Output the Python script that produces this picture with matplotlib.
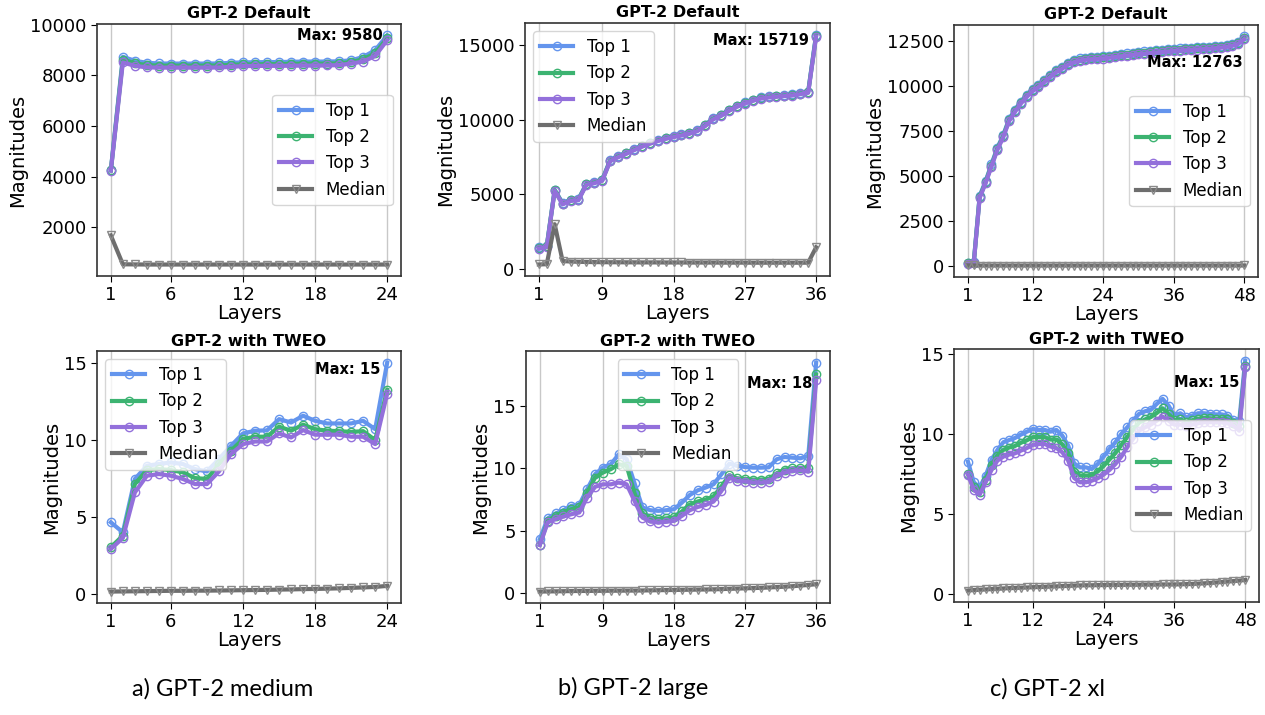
import matplotlib
matplotlib.use("Agg")
from matplotlib import pyplot as plt

plt.rcParams['font.family'] = ['DejaVu Sans']

# 各子图的数据
layers_24 = list(range(1, 25))
layers_36 = list(range(1, 37))
layers_48 = list(range(1, 49))

# a) GPT-2 medium, default
med_def_top1 = [4263, 8737, 8580, 8500, 8475, 8470, 8470, 8470, 8470, 8475, 8500, 8520,
                8520, 8530, 8530, 8540, 8550, 8550, 8550, 8560, 8600, 8730, 9000, 9580]
med_def_top2 = [4250, 8630, 8480, 8410, 8390, 8390, 8390, 8390, 8390, 8395, 8420, 8440,
                8440, 8450, 8450, 8460, 8470, 8470, 8470, 8480, 8530, 8640, 8880, 9480]
med_def_top3 = [4237, 8513, 8380, 8320, 8310, 8310, 8310, 8310, 8310, 8315, 8340, 8370,
                8375, 8380, 8380, 8385, 8390, 8390, 8395, 8410, 8470, 8550, 8770, 9395]
med_def_median = [1680, 540, 535, 530, 530, 530, 530, 530, 530, 530, 530, 530,
                  530, 530, 530, 530, 530, 530, 530, 530, 530, 530, 530, 530]

# a) GPT-2 medium, TWEO
med_tweo_top1 = [4.64, 3.99, 7.45, 8.31, 8.42, 8.52, 8.42, 8.09, 7.94, 8.74, 9.60, 10.40,
                 10.58, 10.60, 11.33, 11.11, 11.55, 11.22, 11.05, 11.05, 11.05, 11.22, 10.68, 15.00]
med_tweo_top2 = [3.02, 3.78, 7.12, 8.03, 8.09, 8.03, 7.88, 7.51, 7.45, 8.42, 9.28, 10.04,
                 10.19, 10.19, 10.84, 10.58, 10.97, 10.68, 10.58, 10.55, 10.50, 10.55, 9.97, 13.23]
med_tweo_top3 = [2.91, 3.63, 6.58, 7.66, 7.77, 7.66, 7.45, 7.12, 7.12, 7.94, 9.07, 9.71,
                 9.88, 9.88, 10.40, 10.14, 10.62, 10.32, 10.32, 10.32, 10.19, 10.19, 9.71, 12.99]
med_tweo_median = [0.15, 0.16, 0.17, 0.18, 0.19, 0.20, 0.20, 0.21, 0.21, 0.22, 0.23, 0.24,
                   0.25, 0.26, 0.28, 0.29, 0.31, 0.32, 0.34, 0.36, 0.39, 0.42, 0.45, 0.52]

# b) GPT-2 large, default
lrg_def_top1 = [1440, 1550, 5320, 4410, 4640, 4690, 5720, 5830, 5990, 7300, 7570, 7790,
                8040, 8270, 8470, 8650, 8800, 8920, 9030, 9140, 9320, 9660, 10110, 10340,
                10680, 10950, 11170, 11350, 11500, 11580, 11620, 11670, 11710, 11800, 11890, 15719]
lrg_def_top2 = [1400, 1510, 5280, 4370, 4600, 4650, 5680, 5790, 5950, 7260, 7530, 7750,
                8000, 8230, 8430, 8610, 8760, 8880, 8990, 9100, 9280, 9620, 10070, 10300,
                10640, 10910, 11130, 11310, 11460, 11540, 11580, 11630, 11670, 11760, 11850, 15650]
lrg_def_top3 = [1360, 1470, 5240, 4330, 4560, 4610, 5640, 5750, 5910, 7220, 7490, 7710,
                7960, 8190, 8390, 8570, 8720, 8840, 8950, 9060, 9240, 9580, 10030, 10260,
                10600, 10870, 11090, 11270, 11420, 11500, 11540, 11590, 11630, 11720, 11810, 15580]
lrg_def_median = [300, 320, 3000, 530, 500, 480, 470, 460, 455, 450, 450, 445,
                  445, 440, 440, 440, 435, 435, 435, 430, 430, 430, 430, 425,
                  425, 425, 425, 420, 420, 420, 420, 420, 420, 420, 420, 1450]

# b) GPT-2 large, TWEO
lrg_tweo_top1 = [4.34, 5.99, 6.39, 6.65, 7.00, 7.08, 8.33, 9.53, 10.06, 10.32, 11.12, 10.73,
                 8.80, 6.87, 6.65, 6.60, 6.65, 6.73, 7.26, 7.87, 8.24, 8.46, 8.72, 9.52,
                 10.37, 10.19, 10.10, 10.05, 10.05, 10.08, 10.72, 10.90, 10.85, 10.80, 10.98, 18.45]
lrg_tweo_top2 = [3.90, 5.80, 6.20, 6.46, 6.73, 6.87, 8.06, 9.26, 9.66, 9.93, 10.32, 10.20,
                 8.00, 6.40, 6.05, 5.95, 6.00, 6.08, 6.55, 7.10, 7.35, 7.50, 7.75, 8.55,
                 9.45, 9.20, 9.15, 9.10, 9.10, 9.15, 9.60, 9.90, 10.00, 10.02, 10.05, 17.50]
lrg_tweo_top3 = [3.86, 5.67, 5.94, 6.15, 6.33, 6.47, 7.66, 8.52, 8.72, 8.72, 8.86, 8.72,
                 7.39, 6.06, 5.75, 5.66, 5.72, 5.80, 6.20, 6.65, 6.91, 7.07, 7.34, 8.19,
                 9.26, 8.99, 8.94, 8.86, 8.86, 8.90, 9.39, 9.65, 9.79, 9.84, 9.73, 17.02]
lrg_tweo_median = [0.15, 0.16, 0.17, 0.18, 0.19, 0.20, 0.20, 0.21, 0.21, 0.22, 0.22, 0.23,
                   0.23, 0.24, 0.25, 0.26, 0.27, 0.28, 0.29, 0.30, 0.31, 0.32, 0.33, 0.35,
                   0.37, 0.39, 0.41, 0.43, 0.45, 0.48, 0.51, 0.54, 0.58, 0.63, 0.68, 0.74]

# c) GPT-2 xl, default
xl_def_top1 = [200, 230, 3915, 4724, 5662, 6581, 7279, 8180, 8695, 9154, 9522, 9853,
               10074, 10349, 10625, 10901, 11085, 11305, 11452, 11544, 11590, 11620, 11640, 11660,
               11700, 11740, 11780, 11820, 11860, 11900, 11930, 11960, 11990, 12020, 12050, 12080,
               12100, 12120, 12140, 12160, 12180, 12200, 12230, 12260, 12300, 12370, 12470, 12763]
xl_def_top2 = [170, 200, 3860, 4665, 5600, 6520, 7220, 8120, 8635, 9095, 9462, 9793,
               10014, 10289, 10565, 10841, 11025, 11245, 11392, 11484, 11530, 11560, 11580, 11600,
               11640, 11680, 11720, 11760, 11800, 11840, 11870, 11900, 11930, 11960, 11990, 12020,
               12040, 12060, 12080, 12100, 12120, 12140, 12170, 12200, 12240, 12310, 12410, 12690]
xl_def_top3 = [140, 170, 3800, 4605, 5540, 6460, 7160, 8060, 8575, 9035, 9402, 9733,
               9954, 10229, 10505, 10781, 10965, 11185, 11332, 11424, 11470, 11500, 11520, 11540,
               11580, 11620, 11660, 11700, 11740, 11780, 11810, 11840, 11870, 11900, 11930, 11960,
               11980, 12000, 12020, 12040, 12060, 12080, 12110, 12140, 12180, 12250, 12350, 12620]
xl_def_median = [60, 55, 50, 50, 50, 50, 50, 50, 50, 50, 50, 50,
                 50, 50, 50, 50, 50, 50, 50, 50, 50, 50, 50, 50,
                 50, 50, 50, 50, 50, 50, 50, 50, 50, 50, 50, 50,
                 50, 50, 50, 50, 50, 50, 50, 50, 50, 50, 50, 55]

# c) GPT-2 xl, TWEO
xl_tweo_top1 = [8.27, 6.98, 6.66, 7.39, 8.37, 9.00, 9.48, 9.62, 9.75, 9.96, 10.14, 10.31,
                10.25, 10.25, 10.14, 10.25, 9.89, 9.27, 8.16, 7.91, 7.91, 7.81, 8.12, 8.58,
                9.06, 9.48, 10.00, 10.41, 10.83, 11.25, 11.41, 11.50, 11.87, 12.19, 11.77, 11.14,
                11.29, 11.04, 11.14, 11.29, 11.29, 11.25, 11.22, 11.22, 11.14, 10.87, 10.83, 14.58]
xl_tweo_top2 = [7.50, 6.70, 6.40, 7.15, 8.05, 8.65, 9.00, 9.15, 9.25, 9.45, 9.60, 9.80,
                9.80, 9.80, 9.65, 9.65, 9.35, 8.80, 7.65, 7.40, 7.40, 7.40, 7.65, 8.00,
                8.40, 8.80, 9.30, 9.80, 10.25, 10.70, 10.90, 11.05, 11.30, 11.60, 11.25, 10.85,
                10.90, 10.75, 10.85, 10.95, 11.00, 10.98, 10.95, 10.95, 10.90, 10.70, 10.50, 14.25]
xl_tweo_top3 = [7.46, 6.50, 6.21, 6.98, 7.75, 8.33, 8.58, 8.71, 8.79, 8.96, 9.12, 9.31,
                9.37, 9.37, 9.21, 9.12, 8.85, 8.33, 7.25, 6.98, 6.98, 7.08, 7.23, 7.46,
                7.75, 8.12, 8.58, 9.16, 9.69, 10.20, 10.41, 10.58, 10.83, 11.08, 10.83, 10.58,
                10.58, 10.52, 10.58, 10.66, 10.73, 10.73, 10.73, 10.73, 10.66, 10.52, 10.20, 14.17]
xl_tweo_median = [0.22, 0.25, 0.27, 0.29, 0.31, 0.33, 0.35, 0.37, 0.38, 0.40, 0.41, 0.43,
                  0.44, 0.45, 0.47, 0.48, 0.50, 0.51, 0.53, 0.54, 0.55, 0.55, 0.56, 0.56,
                  0.57, 0.57, 0.57, 0.58, 0.58, 0.58, 0.59, 0.59, 0.59, 0.60, 0.60, 0.60,
                  0.61, 0.62, 0.63, 0.65, 0.67, 0.69, 0.72, 0.75, 0.78, 0.81, 0.84, 0.88]

xticks_24 = [1, 6, 12, 18, 24]
xticks_36 = [1, 9, 18, 27, 36]
xticks_48 = [1, 12, 24, 36, 48]

yticks_med_def = [2000, 4000, 6000, 8000, 10000]
yticks_lrg_def = [0, 5000, 10000, 15000]
yticks_xl_def = [0, 2500, 5000, 7500, 10000, 12500]
yticks_tweo = [0, 5, 10, 15]

captions = ["a) GPT-2 medium", "b) GPT-2 large", "c) GPT-2 xl"]

c_top1 = "#6495ED"
c_top2 = "#3CB371"
c_top3 = "#9370DB"
c_med = "#6E6E6E"

fig = plt.figure(figsize=(12.65, 7.15), dpi=100)

# 每个子图: (位置, 层, 数据, 刻度, 标题, 图例位置, Max文字偏移)
panels = [
    ([0.0767, 0.614, 0.2403, 0.3524], layers_24, med_def_top1, med_def_top2, med_def_top3, med_def_median,
     xticks_24, yticks_med_def, "GPT-2 Default", "center right", (-3, 0)),
    ([0.4150, 0.614, 0.2411, 0.3538], layers_36, lrg_def_top1, lrg_def_top2, lrg_def_top3, lrg_def_median,
     xticks_36, yticks_lrg_def, "GPT-2 Default", "upper left", (-5, -4)),
    ([0.7542, 0.6126, 0.2403, 0.3524], layers_48, xl_def_top1, xl_def_top2, xl_def_top3, xl_def_median,
     xticks_48, yticks_xl_def, "GPT-2 Default", "center right", (-1, -19)),
    ([0.0767, 0.1566, 0.2403, 0.3524], layers_24, med_tweo_top1, med_tweo_top2, med_tweo_top3, med_tweo_median,
     xticks_24, yticks_tweo, "GPT-2 with TWEO", "upper left", (-5, -5)),
    ([0.4158, 0.1566, 0.2403, 0.3524], layers_36, lrg_tweo_top1, lrg_tweo_top2, lrg_tweo_top3, lrg_tweo_median,
     xticks_36, yticks_tweo, "GPT-2 with TWEO", "upper center", (-3, -15)),
    ([0.7542, 0.158, 0.2411, 0.3538], layers_48, xl_tweo_top1, xl_tweo_top2, xl_tweo_top3, xl_tweo_median,
     xticks_48, yticks_tweo, "GPT-2 with TWEO", "center right", (-4, -16)),
]

for pos, x, t1, t2, t3, med, xt, yt, title, loc, off in panels:
    ax = fig.add_axes(pos)
    ax.plot(x, t1, color=c_top1, lw=3, marker="o", ms=6, mfc="none", mew=1, label="Top 1")
    ax.plot(x, t2, color=c_top2, lw=3, marker="o", ms=6, mfc="none", mew=1, label="Top 2")
    ax.plot(x, t3, color=c_top3, lw=3, marker="o", ms=6, mfc="none", mew=1, label="Top 3")
    ax.plot(x, med, color=c_med, lw=3, marker="v", ms=6, mfc="none", mec="#8a8a8a", mew=1, label="Median")
    ax.set_xticks(xt)
    ax.set_yticks(yt)
    ax.tick_params(labelsize=13, length=4)
    ax.grid(axis="x", color="#c8c8c8", lw=1)
    ax.set_axisbelow(True)
    ax.set_xlabel("Layers", fontsize=14, labelpad=0)
    ax.set_ylabel("Magnitudes", fontsize=14, labelpad=2)
    ax.set_title(title, fontsize=11.5, fontweight="bold", pad=4)
    for s in ax.spines.values():
        s.set_color("#333333")
        s.set_linewidth(1.2)
    mx = max(t1)
    ax.annotate("Max: {}".format(round(mx)), xy=(x[-1], mx), xytext=off, textcoords="offset points",
                ha="right", va="center", fontsize=10.5, fontweight="bold")
    ax.legend(loc=loc, fontsize=12)

# 底部说明文字
for cx, cap in zip([0.1763, 0.5004, 0.8277], captions):
    fig.text(cx, 0.022, cap, ha="center", va="bottom", fontsize=17, family=["Lato", "DejaVu Sans"])

plt.savefig("out.png", dpi=100)
